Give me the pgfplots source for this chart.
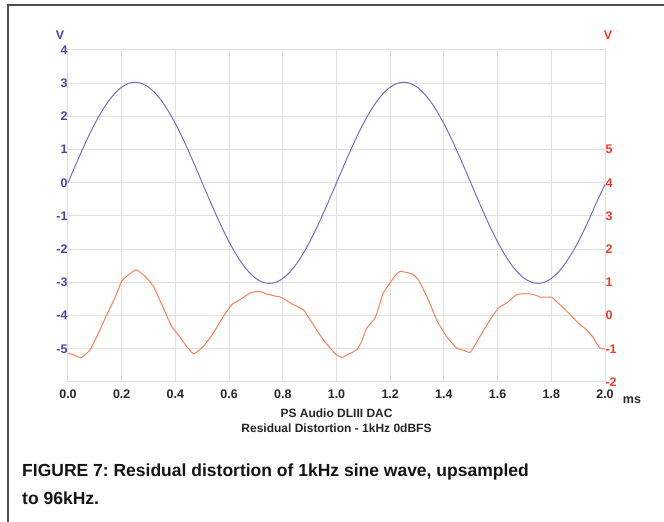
\documentclass[border=0pt]{standalone}
\usepackage{pgfplots}
\pgfplotsset{compat=1.18}
\usepackage{fontspec}
\setmainfont{Liberation Sans}
\newfontfamily\capfont{Liberation Sans}
\definecolor{blueline}{RGB}{112,112,194}
\definecolor{bluetxt}{RGB}{70,70,160}
\definecolor{orangeline}{RGB}{242,128,88}
\definecolor{redtxt}{RGB}{232,62,38}
\definecolor{gridc}{RGB}{224,224,228}
\definecolor{framec}{RGB}{78,78,78}
\begin{document}
\frenchspacing
\begin{tikzpicture}[x=1pt,y=1pt]
\useasboundingbox (0,0) rectangle (664,522);
\draw[framec, line width=2pt] (8,0) -- (8,516.5) -- (664,516.5);
\begin{axis}[
  at={(68pt,140pt)}, anchor=south west,
  width=537pt, height=332pt, scale only axis,
  xmin=0, xmax=2, ymin=-6, ymax=4,
  xtick={0,0.2,0.4,0.6,0.8,1.0,1.2,1.4,1.6,1.8,2.0},
  ytick={-5,-4,-3,-2,-1,0,1,2,3,4},
  grid=major,
  major grid style={gridc, line width=1pt},
  axis line style={gridc, line width=1pt},
  tick style={draw=none},
  /pgf/number format/assume math mode=true,
  xticklabel style={font=\bfseries\fontsize{12.5}{12.5}\selectfont, text=black!85, yshift=-4pt,
     /pgf/number format/.cd, fixed, fixed zerofill, precision=1},
  yticklabel style={font=\bfseries\fontsize{12.5}{12.5}\selectfont, text=bluetxt, xshift=3pt},
  clip=false,
]
\addplot[blueline, line width=1pt, smooth] coordinates {
(0.000,0) (0.025,0.474) (0.050,0.936) (0.075,1.376) (0.100,1.781) (0.125,2.143) (0.150,2.451) (0.175,2.700) (0.200,2.882) (0.225,2.993)
(0.250,3.030) (0.275,2.993) (0.300,2.882) (0.325,2.700) (0.350,2.451) (0.375,2.143) (0.400,1.781) (0.425,1.376) (0.450,0.936) (0.475,0.474)
(0.500,0) (0.525,-0.474) (0.550,-0.936) (0.575,-1.376) (0.600,-1.781) (0.625,-2.143) (0.650,-2.451) (0.675,-2.700) (0.700,-2.882) (0.725,-2.993)
(0.750,-3.030) (0.775,-2.993) (0.800,-2.882) (0.825,-2.700) (0.850,-2.451) (0.875,-2.143) (0.900,-1.781) (0.925,-1.376) (0.950,-0.936) (0.975,-0.474)
(1.000,0) (1.025,0.474) (1.050,0.936) (1.075,1.376) (1.100,1.781) (1.125,2.143) (1.150,2.451) (1.175,2.700) (1.200,2.882) (1.225,2.993)
(1.250,3.030) (1.275,2.993) (1.300,2.882) (1.325,2.700) (1.350,2.451) (1.375,2.143) (1.400,1.781) (1.425,1.376) (1.450,0.936) (1.475,0.474)
(1.500,0) (1.525,-0.474) (1.550,-0.936) (1.575,-1.376) (1.600,-1.781) (1.625,-2.143) (1.650,-2.451) (1.675,-2.700) (1.700,-2.882) (1.725,-2.993)
(1.750,-3.030) (1.775,-2.993) (1.800,-2.882) (1.825,-2.700) (1.850,-2.451) (1.875,-2.143) (1.900,-1.781) (1.925,-1.376) (1.950,-0.936) (1.975,-0.474)
(2.000,-0.05)
};
\end{axis}
\begin{axis}[
  at={(68pt,140pt)}, anchor=south west,
  width=537pt, height=332pt, scale only axis,
  xmin=0, xmax=2, ymin=-2, ymax=8,
  axis x line=none,
  axis y line*=right,
  axis line style={draw=none},
  ytick={-2,-1,0,1,2,3,4,5},
  tick style={draw=none},
  /pgf/number format/assume math mode=true,
  yticklabel style={font=\bfseries\fontsize{12.5}{12.5}\selectfont, text=redtxt, xshift=-3pt},
  clip=false,
]
\addplot[orangeline, line width=1pt, smooth, tension=0.3] coordinates {
(0.000,-1.13) (0.020,-1.18) (0.035,-1.24) (0.051,-1.26) (0.065,-1.17) (0.082,-1.03) (0.100,-0.75) (0.119,-0.43) (0.135,-0.14)
(0.150,0.12) (0.175,0.54) (0.200,1.03) (0.225,1.23) (0.253,1.38) (0.270,1.30) (0.287,1.18) (0.318,0.88) (0.355,0.23) (0.386,-0.33)
(0.411,-0.58) (0.442,-0.93) (0.467,-1.15) (0.485,-1.06) (0.504,-0.93) (0.541,-0.53) (0.578,-0.03) (0.610,0.33) (0.641,0.48)
(0.678,0.68) (0.700,0.72) (0.715,0.73) (0.735,0.66) (0.752,0.63) (0.770,0.59) (0.790,0.56) (0.815,0.45) (0.839,0.33) (0.876,0.18) (0.900,-0.10)
(0.926,-0.43) (0.950,-0.72) (0.976,-0.98) (1.000,-1.18) (1.019,-1.26) (1.045,-1.16) (1.075,-1.03) (1.095,-0.75) (1.112,-0.38) (1.143,-0.08)
(1.160,0.32) (1.174,0.68) (1.199,0.98) (1.220,1.22) (1.236,1.33) (1.260,1.30) (1.280,1.26) (1.305,1.08) (1.342,0.48) (1.373,-0.13)
(1.410,-0.63) (1.448,-0.98) (1.475,-1.05) (1.497,-1.11) (1.515,-0.90) (1.534,-0.63) (1.572,-0.13) (1.603,0.23) (1.634,0.38)
(1.671,0.63) (1.700,0.66) (1.721,0.65) (1.740,0.62) (1.758,0.56) (1.780,0.56) (1.801,0.55) (1.820,0.42) (1.845,0.23) (1.870,0.03)
(1.895,-0.18) (1.915,-0.32) (1.932,-0.43) (1.955,-0.65) (1.981,-0.98) (2.000,-1.00)
};
\end{axis}
\node[text=bluetxt, font=\bfseries\fontsize{12.5}{12.5}\selectfont] at (60,487) {V};
\node[text=redtxt, font=\bfseries\fontsize{12.5}{12.5}\selectfont] at (608,487) {V};
\node[text=black!85, font=\bfseries\fontsize{12.5}{12.5}\selectfont] at (632,122) {ms};
\node[text=black!85, font=\bfseries\fontsize{12}{15}\selectfont, align=center] at (336.5,101) {PS Audio DLIII DAC\\Residual Distortion - 1kHz 0dBFS};
\node[anchor=base west, text=black!92, font=\capfont\bfseries\fontsize{17.5}{28}\selectfont, align=left, inner sep=0pt] at (22,17) {FIGURE 7: Residual distortion of 1kHz sine wave, upsampled\\to 96kHz.};
\end{tikzpicture}
\end{document}
